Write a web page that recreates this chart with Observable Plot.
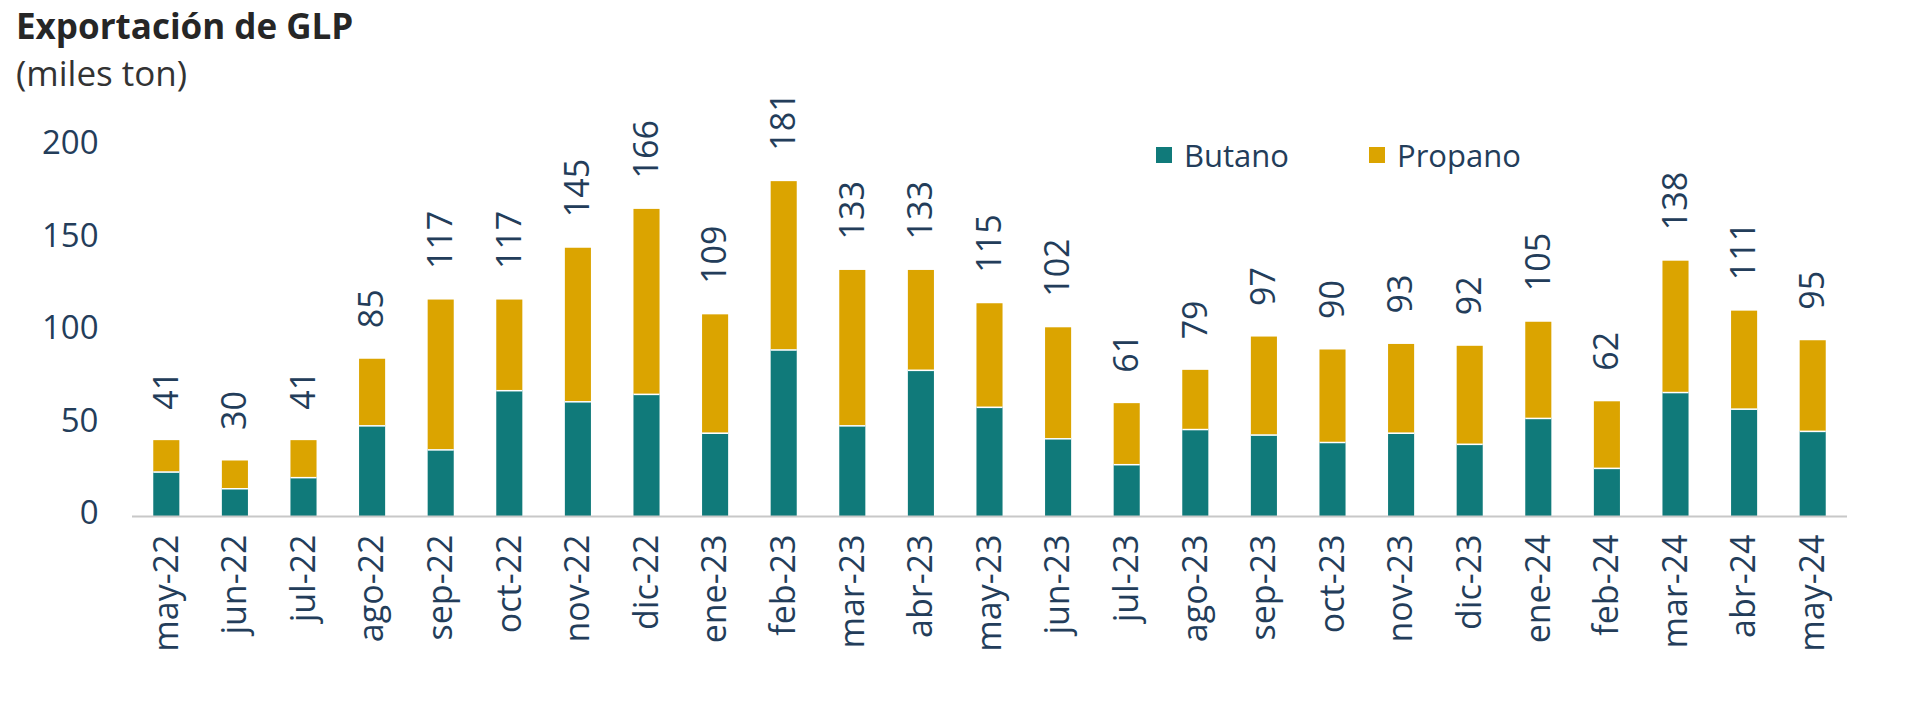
<!DOCTYPE html>
<html>
<head>
<meta charset="utf-8">
<script src="https://cdn.jsdelivr.net/npm/d3@7"></script>
<script src="https://cdn.jsdelivr.net/npm/@observablehq/plot@0.6"></script>
<style>
  html, body { margin: 0; padding: 0; background: #fff; }
  body { width: 1920px; height: 707px; overflow: hidden; position: relative; font-family: "Open Sans", sans-serif; }
  #chart { position: absolute; left: 0; top: 0; }
  #title { position: absolute; left: 16px; top: 8px; font-size: 35px; line-height: 35px; font-weight: 700; color: #262626; white-space: nowrap; }
  #subtitle { position: absolute; left: 16px; top: 55px; font-size: 35px; line-height: 35px; color: #333; white-space: nowrap; }
  .leg { position: absolute; top: 137px; height: 36px; display: flex; align-items: center; font-size: 31px; line-height: 36px; color: #233d5a; white-space: nowrap; }
  .leg .sw { width: 16px; height: 16px; margin-right: 12px; display: inline-block; }
</style>
</head>
<body>
<div id="chart"></div>
<div id="title">Exportación de GLP</div>
<div id="subtitle">(miles ton)</div>
<div id="legend"></div>
<script>
const meses = ["may-22","jun-22","jul-22","ago-22","sep-22","oct-22","nov-22","dic-22","ene-23","feb-23","mar-23","abr-23","may-23","jun-23","jul-23","ago-23","sep-23","oct-23","nov-23","dic-23","ene-24","feb-24","mar-24","abr-24","may-24"];
const butano  = [24, 15, 21, 49, 36, 68, 62, 66, 45, 90, 49, 79, 59, 42, 28, 47, 44, 40, 45, 39, 53, 26, 67, 58, 46];
const propano = [17, 15, 20, 36, 81, 49, 83, 100, 64, 91, 84, 54, 56, 60, 33, 32, 53, 50, 48, 53, 52, 36, 71, 53, 49];
const totales = [41, 30, 41, 85, 117, 117, 145, 166, 109, 181, 133, 133, 115, 102, 61, 79, 97, 90, 93, 92, 105, 62, 138, 111, 95];
const series  = ["Butano", "Propano"];
const colores = ["#107a7a", "#dba400"];
const yTicks  = [0, 50, 100, 150, 200];

const largo = [];
meses.forEach((m, i) => {
  largo.push({mes: m, serie: series[0], valor: butano[i]});
  largo.push({mes: m, serie: series[1], valor: propano[i]});
});
const filas = meses.map((m, i) => ({mes: m, butano: butano[i], total: totales[i]}));

const textColor = "#233d5a";

const chart = Plot.plot({
  width: 1920,
  height: 707,
  marginLeft: 132,
  marginRight: 73,
  marginTop: 146,
  marginBottom: 191,
  style: {fontFamily: '"Open Sans", sans-serif', fontSize: "32px", color: textColor, background: "white"},
  x: {type: "band", domain: meses, paddingInner: 0.62, paddingOuter: 0.31, round: false},
  y: {domain: [0, 200]},
  color: {domain: series, range: colores},
  marks: [
    Plot.barY(largo, Plot.stackY({x: "mes", y: "valor", fill: "serie", order: series})),
    Plot.tickY(filas, {x: "mes", y: "butano", stroke: "#ffffff", strokeWidth: 1.5}),
    Plot.ruleY([0], {stroke: "#c8c8c8", strokeWidth: 2}),
    Plot.text(filas, {x: "mes", y: "total", text: d => String(d.total), rotate: -90, textAnchor: "start", dy: -31, fontSize: 34, fill: textColor}),
    Plot.axisY({ticks: yTicks, tickSize: 0, tickPadding: 34, dy: -3, fontSize: 33, label: null, fill: textColor}),
    Plot.axisX({tickRotate: -90, tickSize: 0, tickPadding: 18, fontSize: 34, label: null, fill: textColor})
  ]
});
document.getElementById("chart").appendChild(chart);

const legend = document.getElementById("legend");
const legLeft = [1156, 1369];
series.forEach((s, i) => {
  const item = document.createElement("div");
  item.className = "leg";
  item.style.left = legLeft[i] + "px";
  const sw = document.createElement("span");
  sw.className = "sw";
  sw.style.background = colores[i];
  item.appendChild(sw);
  item.appendChild(document.createTextNode(s));
  legend.appendChild(item);
});
</script>
</body>
</html>
